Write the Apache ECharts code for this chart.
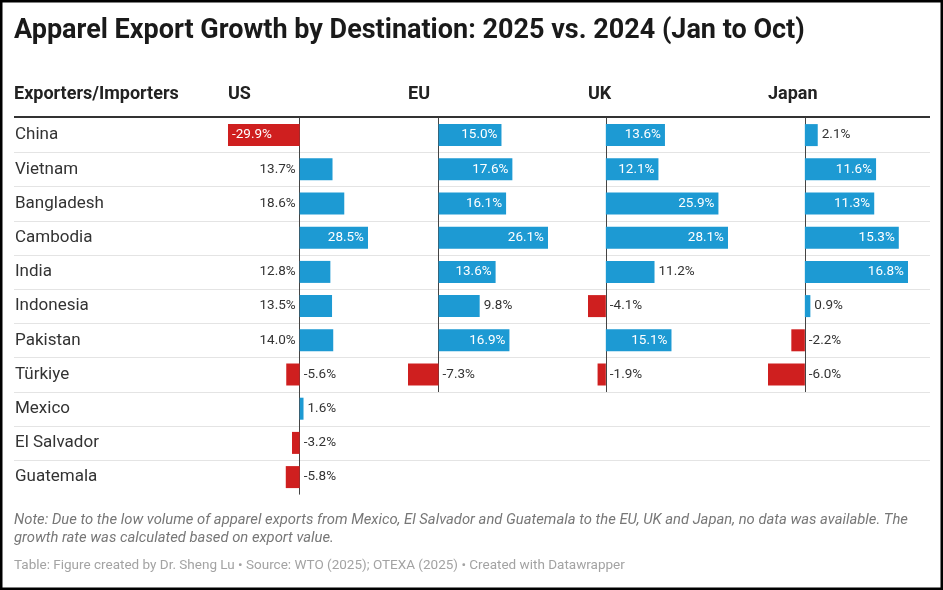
<!DOCTYPE html>
<html>
<head>
<meta charset="utf-8">
<script src="https://cdn.jsdelivr.net/npm/echarts@6/dist/echarts.min.js"></script>
<style>
  html, body { margin: 0; padding: 0; background: #fff; }
  #chart { width: 943px; height: 590px; }
</style>
</head>
<body>
<div id="chart"></div>
<script>
const exporters = ["China", "Vietnam", "Bangladesh", "Cambodia", "India", "Indonesia", "Pakistan", "Türkiye", "Mexico", "El Salvador", "Guatemala"];
const importers = ["US", "EU", "UK", "Japan"];
const usGrowth = [-29.9, 13.7, 18.6, 28.5, 12.8, 13.5, 14.0, -5.6, 1.6, -3.2, -5.8];
const euGrowth = [15.0, 17.6, 16.1, 26.1, 13.6, 9.8, 16.9, -7.3];
const ukGrowth = [13.6, 12.1, 25.9, 28.1, 11.2, -4.1, 15.1, -1.9];
const japanGrowth = [2.1, 11.6, 11.3, 15.3, 16.8, 0.9, -2.2, -6.0];

const titleText = "Apparel Export Growth by Destination: 2025 vs. 2024 (Jan to Oct)";
const headerText = "Exporters/Importers";
const noteText = "Note: Due to the low volume of apparel exports from Mexico, El Salvador and Guatemala to the EU, UK and Japan, no data was available. The\ngrowth rate was calculated based on export value.";
const sourceText = "Table: Figure created by Dr. Sheng Lu \u2022 Source: WTO (2025); OTEXA (2025) \u2022 Created with Datawrapper";

const FONT = "Roboto";
const BLUE = "#1d9ad3";
const RED = "#cf1f1f";

// layout
const LEFT = 14;
const RIGHT = 930;
const TOP = 118;
const ROW_H = 34.2;
const COL_X = 228;
const COL_STEP = 180;
const COL_W = 140;

const columns = [usGrowth, euGrowth, ukGrowth, japanGrowth];

const chart = echarts.init(document.getElementById("chart"));

function fmt(v) {
  return v.toFixed(1) + "%";
}

// inside label when the bar is long enough, else outside on the side with room
function labelFor(v, min, max) {
  const scale = COL_W / (max - min);
  const len = Math.abs(v) * scale;
  const zeroPx = -min * scale;
  if (len > 50) {
    return { position: v < 0 ? "insideLeft" : "insideRight", color: "#fff" };
  }
  if (v >= 0) {
    return { position: COL_W - zeroPx - len >= 40 ? "right" : "left", color: "#333" };
  }
  return { position: COL_W - zeroPx >= 40 ? "right" : "left", color: "#333" };
}

const grids = [{ left: LEFT, width: RIGHT - LEFT, top: TOP, height: exporters.length * ROW_H, outerBoundsMode: "none" }];
const xAxes = [{ gridIndex: 0, type: "value", min: 0, max: 1, show: false }];
const yAxes = [{
  gridIndex: 0, type: "category", data: exporters, inverse: true,
  axisLine: { show: false }, axisTick: { show: false },
  axisLabel: { inside: true, margin: 1, fontSize: 17, color: "#333", fontFamily: FONT }
}];
const series = [{
  type: "custom", xAxisIndex: 0, yAxisIndex: 0, silent: true, z: 0,
  data: exporters.slice(0, -1).map((n, i) => [0, i]),
  renderItem: function (params, api) {
    const p = api.coord([0, api.value(1)]);
    const half = api.size([0, 1])[1] / 2;
    const y = Math.round(p[1] + half) + 0.5;
    return {
      type: "line",
      shape: { x1: params.coordSys.x, y1: y, x2: params.coordSys.x + params.coordSys.width, y2: y },
      style: { stroke: "#e4e4e4", lineWidth: 1 }
    };
  }
}];

columns.forEach((vals, i) => {
  const min = Math.min(...vals);
  const max = Math.max(...vals);
  grids.push({ left: COL_X + i * COL_STEP, width: COL_W, top: TOP, height: vals.length * ROW_H, outerBoundsMode: "none" });
  xAxes.push({ gridIndex: i + 1, type: "value", min: min, max: max, show: false });
  yAxes.push({
    gridIndex: i + 1, type: "category", data: exporters.slice(0, vals.length), inverse: true,
    axisLine: { show: true, onZero: true, lineStyle: { color: "#444", width: 1 } },
    axisTick: { show: false }, axisLabel: { show: false }
  });
  series.push({
    type: "bar", xAxisIndex: i + 1, yAxisIndex: i + 1, barWidth: 22, silent: true,
    label: { show: true, fontSize: 13.5, fontFamily: FONT, distance: 4, formatter: (p) => fmt(p.value) },
    data: vals.map((v) => ({
      value: v,
      itemStyle: { color: v < 0 ? RED : BLUE },
      label: labelFor(v, min, max)
    }))
  });
});

const graphics = [
  { type: "text", x: LEFT, y: 94, style: { text: headerText, font: "bold 18px " + FONT, fill: "#222", verticalAlign: "middle" } },
  { type: "line", shape: { x1: LEFT, y1: TOP - 1, x2: RIGHT, y2: TOP - 1 }, style: { stroke: "#333", lineWidth: 2 } },
  { type: "text", x: LEFT, y: 511, style: { text: noteText, font: "italic 14.8px " + FONT, fill: "#777", lineHeight: 18 } },
  { type: "text", x: LEFT, y: 566, style: { text: sourceText, font: "13.5px " + FONT, fill: "#a3a3a3", verticalAlign: "middle" } },
  { type: "rect", shape: { x: 1, y: 1, width: 941, height: 588 }, style: { fill: "none", stroke: "#000", lineWidth: 3 }, z: 100 }
];
importers.forEach((name, i) => {
  graphics.push({ type: "text", x: COL_X + i * COL_STEP, y: 94, style: { text: name, font: "bold 18px " + FONT, fill: "#222", verticalAlign: "middle" } });
});

chart.setOption({
  backgroundColor: "#fff",
  animation: false,
  title: {
    text: titleText, left: LEFT, top: 18, padding: 0,
    textStyle: { fontSize: 27, fontWeight: "bold", color: "#1a1a1a", fontFamily: FONT }
  },
  grid: grids,
  xAxis: xAxes,
  yAxis: yAxes,
  series: series,
  graphic: graphics
});
</script>
</body>
</html>
